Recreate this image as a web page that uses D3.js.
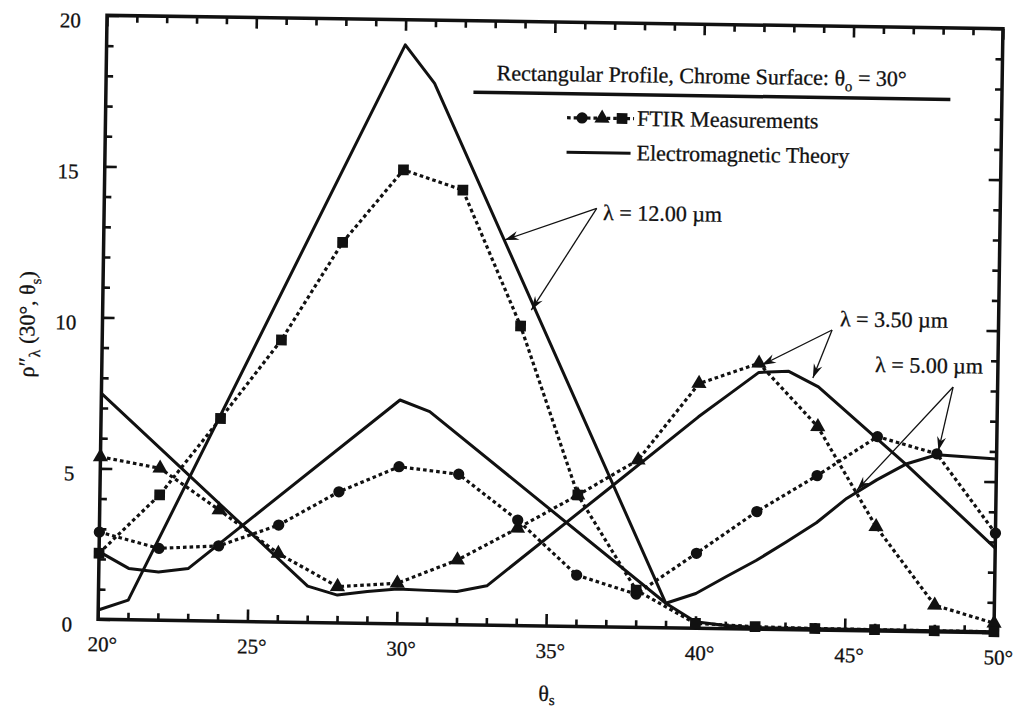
<!DOCTYPE html>
<html>
<head>
<meta charset="utf-8">
<script src="https://cdn.jsdelivr.net/npm/d3@7"></script>
<style>
  html, body { margin: 0; padding: 0; background: #fff; }
  svg { display: block; }
  text { font-family: "Liberation Serif", "Times New Roman", Times, serif; fill: #111; stroke: #111; stroke-width: 0.3px; }
</style>
</head>
<body>
<svg id="chart" width="1018" height="711"></svg>
<script>
// ---- Data: bidirectional reflectance, rectangular-profile chrome surface, incidence 30° ----
// FTIR measurements, every 2°
const measAngles = [20, 22, 24, 26, 28, 30, 32, 34, 36, 38, 40, 42, 44, 46, 48, 50];
const meas350  = [5.38, 5.03, 3.68, 2.27, 1.20, 1.34, 2.14, 3.22, 4.35, 5.54, 8.10, 8.80, 6.73, 3.45, 0.88, 0.31];
const meas500  = [2.89, 2.38, 2.49, 3.21, 4.34, 5.20, 4.98, 3.49, 1.70, 1.10, 2.48, 3.89, 5.11, 6.43, 5.89, 3.29];
const meas1200 = [2.19, 4.15, 6.71, 9.34, 12.60, 15.03, 14.39, 9.92, 4.35, 1.23, 0.16, 0.08, 0.05, 0.04, 0.03, 0.03];

// Electromagnetic theory (polyline vertices)
const theory350Angles = [20, 27, 28, 29, 30, 31, 32, 33, 37, 40, 41, 42, 43, 44, 47, 50];
const theory350       = [7.48, 1.20, 0.92, 1.05, 1.15, 1.12, 1.10, 1.30, 4.55, 7.00, 7.75, 8.50, 8.55, 8.05, 5.50, 2.80];
const theory500Angles = [20, 21, 22, 23, 30, 31, 39, 40, 41, 42, 43, 44, 45, 46, 47, 48, 50];
const theory500       = [2.24, 1.70, 1.60, 1.73, 7.41, 7.04, 0.81, 1.15, 1.72, 2.27, 2.90, 3.55, 4.37, 5.00, 5.55, 5.86, 5.75];
const theory1200Angles = [20, 21, 30, 31, 39, 40, 41, 42, 50];
const theory1200       = [0.31, 0.65, 19.17, 17.91, 0.81, 0.21, 0.10, 0.05, 0.03];

// Axis ticks
const xTickValues = [20, 25, 30, 35, 40, 45, 50];
const yTickValues = [0, 5, 10, 15, 20];
const xMinorTicks = d3.range(21, 50).filter(d => d % 5 !== 0);
const yMinorTicks = d3.range(1, 20).filter(d => d % 5 !== 0);

// Wavelength call-outs: label anchor, arrow tail and arrow heads, in data units
const calloutLabels = ["λ = 12.00 µm", "λ = 3.50 µm", "λ = 5.00 µm"];
const calloutText   = [[36.71, 13.47], [44.69, 10.07], [45.89, 8.57]];
const calloutTails  = [[36.49, 13.85], [44.43, 9.94], [48.51, 8.11]];
const calloutHeads  = [
  [[33.43, 12.76], [34.35, 10.45]],
  [[42.10, 8.75], [43.81, 8.34]],
  [[48.05, 6.00], [45.34, 4.65]]
];

// ---- Layout ----
const svg = d3.select("#chart");
const M = { left: 102.5, right: 998.5, top: 22, bottom: 626 };
const x = d3.scaleLinear().domain([20, 50]).range([M.left, M.right]);
const y = d3.scaleLinear().domain([0, 20]).range([M.bottom, M.top]);

const defs = svg.append("defs");
defs.append("marker")
  .attr("id", "arrowHead")
  .attr("viewBox", "-15 -6 16 12")
  .attr("refX", 0).attr("refY", 0)
  .attr("markerWidth", 16).attr("markerHeight", 12)
  .attr("markerUnits", "userSpaceOnUse")
  .attr("orient", "auto")
  .append("path")
  .attr("d", "M0,0 L-14,-4.5 L-9.5,0 L-14,4.5 Z")
  .attr("fill", "#111");

// the whole figure sits at a slight tilt
const root = svg.append("g").attr("transform", "rotate(0.85,550.5,324)");

// ---- Axes (ticks point inward on all four sides) ----
function tickAxis(gen, tx, ty, fontSize) {
  const g = root.append("g").attr("transform", `translate(${tx},${ty})`).call(gen);
  g.select(".domain").remove();
  g.selectAll(".tick line").attr("stroke", "#111").attr("stroke-width", 2.6);
  g.selectAll("text").style("font-size", fontSize + "px").attr("fill", "#111");
  return g;
}

// bottom
const bottom = tickAxis(d3.axisBottom(x).tickValues(xTickValues).tickSize(-12).tickPadding(17)
  .tickFormat(d => d + "°"), 0, M.bottom, 21);
bottom.selectAll("text").attr("dx", "0.2em");
tickAxis(d3.axisBottom(x).tickValues(xMinorTicks).tickSize(-7).tickFormat(""), 0, M.bottom, 21);
// top
tickAxis(d3.axisTop(x).tickValues(xTickValues).tickSize(-11).tickFormat(""), 0, M.top, 21);
tickAxis(d3.axisTop(x).tickValues(xMinorTicks).tickSize(-7).tickFormat(""), 0, M.top, 21);
// left
const left = tickAxis(d3.axisLeft(y).tickValues(yTickValues).tickSize(-12).tickPadding(26)
  .tickFormat(d3.format("d")), M.left, 0, 21);
left.selectAll("text").attr("dy", "0.57em");
tickAxis(d3.axisLeft(y).tickValues(yMinorTicks).tickSize(-7).tickFormat(""), M.left, 0, 21);
// right
tickAxis(d3.axisRight(y).tickValues(yTickValues).tickSize(-12).tickFormat(""), M.right, 0, 21);
tickAxis(d3.axisRight(y).tickValues(yMinorTicks).tickSize(-7).tickFormat(""), M.right, 0, 21);

// frame
root.append("rect")
  .attr("x", M.left).attr("y", M.top)
  .attr("width", M.right - M.left).attr("height", M.bottom - M.top)
  .attr("fill", "none").attr("stroke", "#111").attr("stroke-width", 3.5);

// ---- Series ----
const line = d3.line().x(d => x(d[0])).y(d => y(d[1]));

const theorySeries = [
  d3.zip(theory350Angles, theory350),
  d3.zip(theory500Angles, theory500),
  d3.zip(theory1200Angles, theory1200)
];
root.append("g").selectAll("path").data(theorySeries).join("path")
  .attr("d", line)
  .attr("fill", "none").attr("stroke", "#111")
  .attr("stroke-width", 3).attr("stroke-linejoin", "round");

const measSeries = [
  { values: d3.zip(measAngles, meas350), symbol: d3.symbolTriangle, size: 100 },
  { values: d3.zip(measAngles, meas500), symbol: d3.symbolCircle, size: 100 },
  { values: d3.zip(measAngles, meas1200), symbol: d3.symbolSquare, size: 115 }
];
const measG = root.append("g");
measSeries.forEach(s => {
  measG.append("path")
    .datum(s.values)
    .attr("d", line)
    .attr("fill", "none").attr("stroke", "#111")
    .attr("stroke-width", 3.2).attr("stroke-dasharray", "3.6,3");
});
measSeries.forEach(s => {
  measG.append("g").selectAll("path").data(s.values).join("path")
    .attr("transform", d => `translate(${x(d[0])},${y(d[1])})`)
    .attr("d", d3.symbol().type(s.symbol).size(s.size))
    .attr("fill", "#111");
});

// ---- Wavelength call-outs ----
const callG = root.append("g");
calloutLabels.forEach((label, i) => {
  const tail = calloutTails[i];
  calloutHeads[i].forEach(h => {
    callG.append("line")
      .attr("x1", x(tail[0])).attr("y1", y(tail[1]))
      .attr("x2", x(h[0])).attr("y2", y(h[1]))
      .attr("stroke", "#111").attr("stroke-width", 1.3)
      .attr("marker-end", "url(#arrowHead)");
  });
  callG.append("text")
    .attr("x", x(calloutText[i][0])).attr("y", y(calloutText[i][1]))
    .style("font-size", "22px")
    .text(label);
});

// ---- Legend ----
const leg = root.append("g");
const title = leg.append("text").attr("x", 493).attr("y", 81).style("font-size", "22px");
title.append("tspan").text("Rectangular Profile, Chrome Surface: θ");
title.append("tspan").attr("dy", 6).style("font-size", "15px").text("o");
title.append("tspan").attr("dy", -6).text("  = 30°");
leg.append("line").attr("x1", 470).attr("x2", 947).attr("y1", 93.5).attr("y2", 93.5)
  .attr("stroke", "#111").attr("stroke-width", 3.5);

leg.append("line").attr("x1", 564).attr("x2", 631).attr("y1", 117.5).attr("y2", 117.5)
  .attr("stroke", "#111").attr("stroke-width", 3.2).attr("stroke-dasharray", "3.6,3");
const legSymbols = [[579, d3.symbolCircle, 100], [599, d3.symbolTriangle, 100], [619, d3.symbolSquare, 115]];
legSymbols.forEach(([sx, type, size]) => {
  leg.append("path").attr("transform", `translate(${sx},117.5)`)
    .attr("d", d3.symbol().type(type).size(size)).attr("fill", "#111");
});
leg.append("text").attr("x", 634).attr("y", 124.5).style("font-size", "22px").text("FTIR Measurements");

leg.append("line").attr("x1", 564).attr("x2", 628).attr("y1", 152).attr("y2", 152)
  .attr("stroke", "#111").attr("stroke-width", 3);
leg.append("text").attr("x", 634).attr("y", 159).style("font-size", "22px").text("Electromagnetic Theory");

// ---- Axis titles ----
const xt = root.append("text").attr("x", 552).attr("y", 701)
  .attr("text-anchor", "middle").style("font-size", "22px");
xt.append("tspan").text("θ");
xt.append("tspan").attr("dy", 4).style("font-size", "15px").text("s");

const yt = root.append("text")
  .attr("transform", "translate(34.5,332) rotate(-90)")
  .attr("text-anchor", "middle").style("font-size", "22px");
yt.append("tspan").text("ρ″");
yt.append("tspan").attr("dy", 6).style("font-size", "16px").text("λ");
yt.append("tspan").attr("dy", -6).text(" (30°, θ");
yt.append("tspan").attr("dy", 6).style("font-size", "15px").text("s");
yt.append("tspan").attr("dy", -6).text(")");
</script>
</body>
</html>
